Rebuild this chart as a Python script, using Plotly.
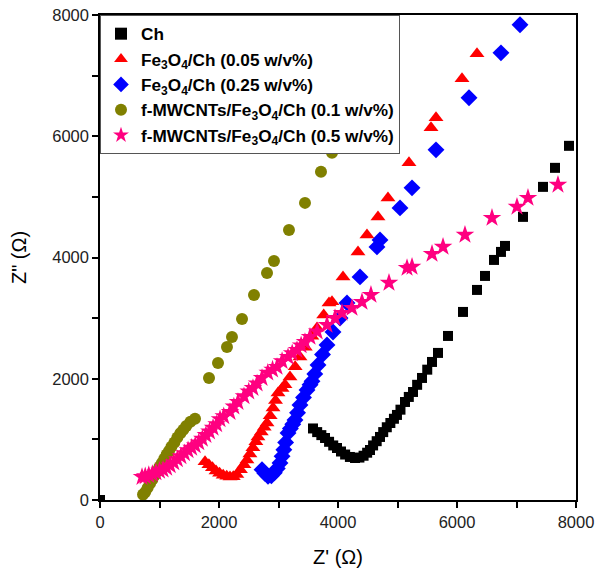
import plotly.graph_objects as go

# ---- data (Z' , Z'') ----
ch_x = [0, 3580, 3650, 3720, 3782, 3850, 3920, 3983, 4050, 4120, 4200, 4286, 4360, 4430, 4490, 4538,
        4590, 4650, 4706, 4760, 4820, 4880, 4940, 4991, 5050, 5126, 5190, 5261, 5330, 5412, 5500,
        5580, 5681, 5849, 6101, 6336, 6471, 6622, 6739, 6807, 7109, 7445, 7647, 7882]
ch_y = [0, 1180, 1120, 1070, 1023, 960, 900, 858, 800, 750, 710, 693, 700, 730, 780, 825,
        900, 970, 1040, 1120, 1200, 1270, 1340, 1403, 1490, 1617, 1700, 1782, 1900, 2013, 2150,
        2277, 2426, 2706, 3102, 3465, 3696, 3960, 4092, 4191, 4670, 5165, 5479, 5842]

fe05_x = [1765, 1830, 1890, 1950, 2010, 2070, 2130, 2185, 2240, 2300, 2360, 2420, 2470, 2520, 2570,
          2620, 2655, 2710, 2760, 2807, 2860, 2908, 2950, 2992, 3060, 3109, 3193, 3280, 3361, 3450,
          3560, 3647, 3760, 3849, 3899, 4084, 4336, 4487, 4672, 4840, 5193, 5563, 5647, 6084, 6336]
fe05_y = [630, 580, 530, 480, 440, 410, 390, 380, 385, 420, 500, 580, 660, 760, 860,
          960, 1040, 1120, 1200, 1270, 1390, 1518, 1640, 1766, 1840, 1900, 2030, 2200, 2360, 2520,
          2700, 2838, 3050, 3250, 3270, 3680, 4092, 4373, 4670, 4983, 5561, 6139, 6304, 6947, 7360]

fe25_x = [2723, 2770, 2824, 2880, 2930, 2980, 3025, 3060, 3090, 3120, 3160, 3200, 3240, 3277, 3320,
          3361, 3420, 3479, 3530, 3563, 3610, 3664, 3740, 3815, 3916, 4034, 4151, 4370, 4655, 4706,
          5042, 5244, 5647, 6202, 6739, 7059]
fe25_y = [500, 440, 390, 400, 450, 520, 610, 720, 830, 950, 1106, 1180, 1250, 1320, 1440,
          1567, 1690, 1815, 1900, 1960, 2080, 2228, 2400, 2558, 2772, 3003, 3251, 3680, 4175, 4290,
          4818, 5149, 5776, 6634, 7376, 7838]

mw01_x = [723, 760, 800, 840, 880, 920, 960, 1000, 1040, 1080, 1120, 1160, 1200, 1250, 1300, 1350,
          1400, 1450, 1520, 1597, 1832, 1983, 2134, 2218, 2387, 2588, 2807, 2924, 3176, 3445, 3714, 3899]
mw01_y = [90, 130, 200, 270, 340, 410, 480, 550, 610, 680, 750, 810, 880, 950, 1030, 1100,
          1160, 1220, 1290, 1340, 2013, 2261, 2525, 2690, 2987, 3383, 3746, 3944, 4455, 4901, 5413, 5726]

mw05_x = [706, 760, 820, 880, 940, 1000, 1060, 1120, 1180, 1240, 1300, 1360, 1420, 1480, 1540, 1600,
          1660, 1720, 1780, 1840, 1900, 1960, 2017, 2080, 2185, 2250, 2319, 2420, 2500, 2571, 2640,
          2723, 2820, 2900, 2975, 3060, 3160, 3230, 3311, 3380, 3445, 3529, 3650, 3815, 3950, 4067,
          4235, 4403, 4554, 4857, 5160, 5244, 5580, 5765, 6134, 6588, 7008, 7193, 7697]
mw05_y = [380, 390, 410, 430, 455, 480, 500, 530, 570, 620, 670, 720, 770, 820, 860, 900,
          950, 1010, 1070, 1130, 1190, 1250, 1330, 1380, 1450, 1540, 1617, 1710, 1790, 1848, 1920,
          2013, 2100, 2150, 2195, 2290, 2360, 2420, 2475, 2550, 2607, 2690, 2780, 2888, 3000, 3086,
          3168, 3267, 3383, 3581, 3828, 3845, 4059, 4175, 4373, 4653, 4835, 4983, 5198]

tick_vals = [0, 2000, 4000, 6000, 8000]

names = ["Ch", "Fe<sub>3</sub>O<sub>4</sub>/Ch (0.05 w/v%)", "Fe<sub>3</sub>O<sub>4</sub>/Ch (0.25 w/v%)",
         "f-MWCNTs/Fe<sub>3</sub>O<sub>4</sub>/Ch (0.1 w/v%)", "f-MWCNTs/Fe<sub>3</sub>O<sub>4</sub>/Ch (0.5 w/v%)"]

fig = go.Figure()
series = [
    (ch_x, ch_y, "square", "#000000", 10),
    (fe05_x, fe05_y, "triangle-up", "#ff0000", 13),
    (fe25_x, fe25_y, "diamond", "#0000ff", 13),
    (mw01_x, mw01_y, "circle", "#808000", 12),
    (mw05_x, mw05_y, "star", "#ff0080", 14),
]
for (x, y, sym, col, sz), nm in zip(series, names):
    fig.add_trace(go.Scatter(x=x, y=y, mode="markers", name="<b>" + nm + "</b>",
                             marker=dict(symbol=sym, color=col, size=sz, line=dict(width=0)),
                             cliponaxis=True))

FONT = "Arial, Liberation Sans"
axis_common = dict(
    showline=True, linecolor="black", linewidth=1.5, mirror=True,
    ticks="outside", ticklen=6, tickwidth=1.5, tickcolor="black",
    showgrid=False, zeroline=False, automargin=False, ticklabeloverflow="allow",
    tickfont=dict(family=FONT, size=16.5, color="#222"),
    minor=dict(dtick=1000, ticks="outside", ticklen=6, tickwidth=1.5, tickcolor="black", showgrid=False),
)
fig.update_layout(
    width=598, height=578,
    margin=dict(l=100, r=22, t=15, b=78),
    plot_bgcolor="white", paper_bgcolor="white",
    showlegend=True,
    legend=dict(x=0, y=1, xanchor="left", yanchor="top",
                bordercolor="#555", borderwidth=1, bgcolor="white",
                font=dict(family=FONT, size=17.2, color="black"),
                itemsizing="constant", tracegroupgap=0),
    xaxis=dict(range=[0, 8000], tickvals=tick_vals,
               title=dict(text="Z' (Ω)", font=dict(family=FONT, size=20, color="black"), standoff=20),
               **axis_common),
    yaxis=dict(range=[0, 8000], tickvals=tick_vals,
               title=dict(text="Z\" (Ω)", font=dict(family=FONT, size=20, color="black"), standoff=20),
               **axis_common),
)

fig.write_html("out.html", config={"displayModeBar": False},
               post_script="document.body.style.margin='0';document.body.style.overflow='hidden';")
